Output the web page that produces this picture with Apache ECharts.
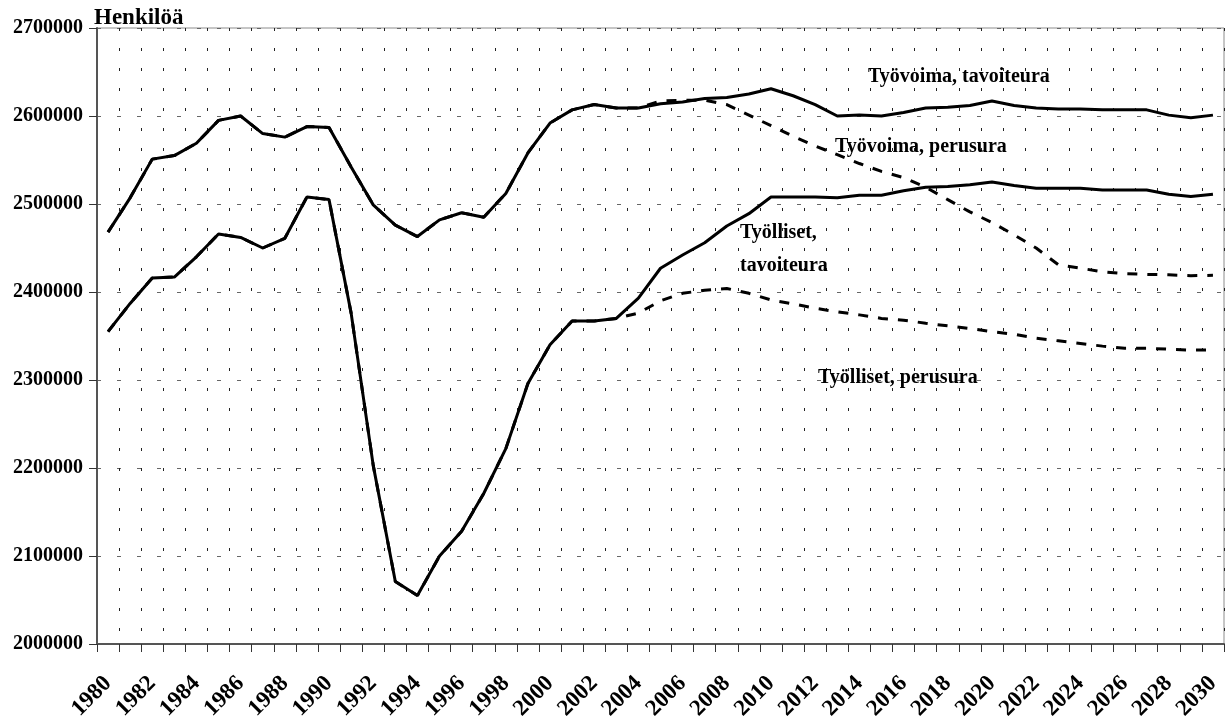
<!DOCTYPE html>
<html>
<head>
<meta charset="utf-8">
<script src="https://cdn.jsdelivr.net/npm/echarts@6/dist/echarts.min.js"></script>
<style>
html,body{margin:0;padding:0;background:#fff;}
#chart{width:1229px;height:722px;}
</style>
</head>
<body>
<div id="chart"></div>
<script>
var years = [];
for (var y = 1980; y <= 2030; y++) years.push(String(y));

// Työvoima, tavoiteura (1980-2030)
var tyovoimaTavoite = [2468000,2507000,2551000,2555000,2569000,2595000,2600000,2580000,2576000,2588000,
	2587000,2542000,2499000,2476000,2463000,2482000,2490000,2485000,2512000,2558000,
	2592000,2607000,2613000,2609000,2609000,2614000,2616000,2620000,2621000,2625000,
	2631000,2623000,2613000,2600000,2601000,2600000,2604000,2609000,2610000,2612000,
	2617000,2612000,2609000,2608000,2608000,2607000,2607000,2607000,2601000,2598000,2601000];

// Työvoima, perusura: same as tavoiteura up to 2004, then 2005-2030
var tyovoimaPerusTail = [2617000,2618000,2618000,2613000,2601000,2589000,2577000,2566000,2556000,2546000,
	2537000,2530000,2519000,2505000,2491000,2479000,2465000,2450000,2431000,2427000,
	2423000,2421000,2420000,2419500,2418500,2419000];

// Työlliset, tavoiteura (1980-2030)
var tyollisetTavoite = [2355000,2387000,2416000,2417000,2440000,2466000,2462000,2450000,2461000,2508000,
	2505000,2376000,2203000,2071000,2055000,2100000,2128000,2171000,2222000,2296000,
	2340000,2367000,2367000,2370000,2393000,2427000,2442000,2456000,2475000,2489000,
	2508000,2508000,2508000,2507000,2510000,2510000,2515000,2519000,2520000,2522000,
	2525000,2521000,2518000,2518000,2518000,2516000,2516000,2516000,2511000,2508500,2511000];

// Työlliset, perusura: same as tavoiteura up to 2003, then 2004-2030
var tyollisetPerusTail = [2376000,2390000,2398500,2402000,2404000,2398500,2391000,2386500,2381500,2377500,
	2374000,2370000,2368000,2364500,2361500,2358500,2355000,2352000,2347500,2344500,
	2341500,2338500,2336000,2336000,2335000,2334000,2334000];

var tyovoimaPerus = tyovoimaTavoite.slice(0, 25).concat(tyovoimaPerusTail);
var tyollisetPerus = tyollisetTavoite.slice(0, 24).concat(tyollisetPerusTail);

var font = "'Liberation Serif', 'Times New Roman', serif";

var chart = echarts.init(document.getElementById('chart'));

function lineSerie(name, data, dashed, z){
	return {
		name: name,
		type: 'line',
		data: data,
		symbol: 'none',
		z: z,
		lineStyle: {
			color: '#000',
			width: 3,
			type: dashed ? [10, 10] : 'solid'
		}
	};
}

function note(text, x, y){
	return {
		type: 'text',
		left: x,
		top: y,
		z: 100,
		style: {
			text: text,
			fill: '#000',
			font: 'bold 20px ' + font
		}
	};
}

var options = {
	animation: false,
	backgroundColor: '#fff',
	grid: {
		left: 97,
		right: 5,
		top: 28,
		bottom: 78,
		show: true,
		borderColor: '#8c8c8c',
		borderWidth: 1,
		containLabel: false,
		outerBoundsMode: 'none'
	},
	xAxis: [{
		type: 'category',
		data: years,
		boundaryGap: true,
		axisLine: {lineStyle: {color: '#555', width: 2}},
		axisTick: {show: true, interval: 0, length: 8, lineStyle: {color: '#333'}},
		axisLabel: {
			interval: 1,
			rotate: 45,
			margin: 36,
			color: '#000',
			fontFamily: font,
			fontWeight: 'bold',
			fontSize: 23
		},
		splitLine: {
			show: true,
			interval: 0,
			lineStyle: {color: '#222', width: 1, type: [3, 17]}
		}
	}],
	yAxis: [{
		type: 'value',
		min: 2000000,
		max: 2700000,
		interval: 100000,
		name: 'Henkilöä',
		nameLocation: 'end',
		nameGap: 0,
		nameTextStyle: {
			color: '#000',
			fontFamily: font,
			fontWeight: 'bold',
			fontSize: 23,
			align: 'left',
			verticalAlign: 'bottom',
			padding: [0, 0, -2, -3]
		},
		axisLine: {show: true, lineStyle: {color: '#555', width: 2}},
		axisTick: {show: true, length: 8, lineStyle: {color: '#333'}},
		axisLabel: {
			margin: 14,
			color: '#000',
			fontFamily: font,
			fontWeight: 'bold',
			fontSize: 20,
			formatter: function(v){ return String(v); }
		},
		splitLine: {
			show: true,
			lineStyle: {color: '#666', width: 1, type: [4, 16]}
		}
	}],
	series: [
		lineSerie('Työvoima, perusura', tyovoimaPerus, true, 2),
		lineSerie('Työlliset, perusura', tyollisetPerus, true, 2),
		lineSerie('Työvoima, tavoiteura', tyovoimaTavoite, false, 3),
		lineSerie('Työlliset, tavoiteura', tyollisetTavoite, false, 3)
	],
	graphic: [
		note('Työvoima, tavoiteura', 868, 67),
		note('Työvoima, perusura', 835, 137),
		note('Työlliset,', 740, 223),
		note('tavoiteura', 740, 256),
		note('Työlliset, perusura', 818, 368)
	]
};

chart.setOption(options);
</script>
</body>
</html>
